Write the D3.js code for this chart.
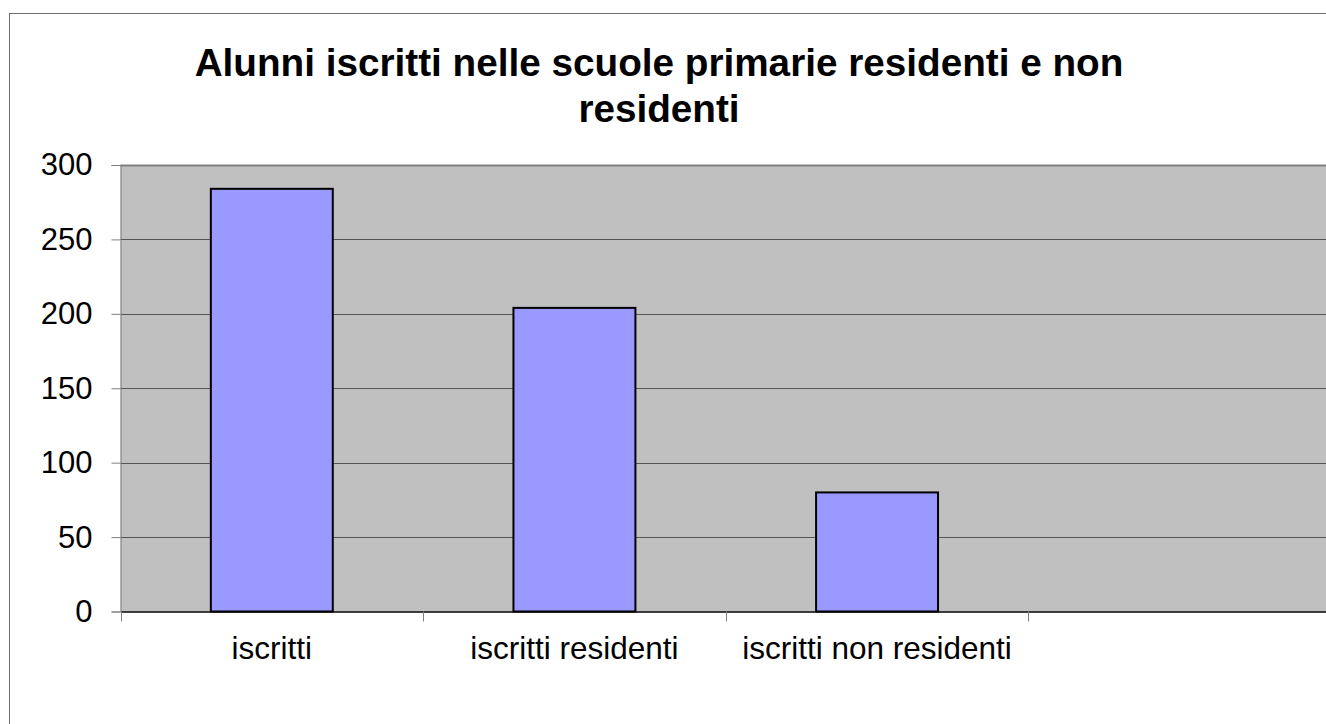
<!DOCTYPE html>
<html>
<head>
<meta charset="utf-8">
<script src="https://cdn.jsdelivr.net/npm/d3@7/dist/d3.min.js"></script>
<style>
  html, body { margin: 0; padding: 0; background: #fff; overflow: hidden; }
  svg { display: block; font-family: "Liberation Sans", Arial, sans-serif; }
</style>
</head>
<body>
<svg id="chart" width="1326" height="724"></svg>
<script>
const titleLines = ["Alunni iscritti nelle scuole primarie residenti e non", "residenti"];
const categories = ["iscritti", "iscritti residenti", "iscritti non residenti"];
const slots = ["iscritti", "iscritti residenti", "iscritti non residenti", ""];
const values = [284, 204, 80];
const yTicks = [0, 50, 100, 150, 200, 250, 300];

const svg = d3.select("#chart");

// outer chart border
svg.append("rect")
  .attr("x", 9.5).attr("y", 13.5)
  .attr("width", 1400).attr("height", 800)
  .attr("fill", "#fff").attr("stroke", "#6e6e6e").attr("stroke-width", 1);

const plot = { left: 120.5, top: 165, bottom: 611.5, right: 1331 };

const x = d3.scaleBand().domain(slots).range([plot.left, plot.right]).padding(0);
const y = d3.scaleLinear().domain([0, 300]).range([plot.bottom, plot.top]);

// plot area
svg.append("rect")
  .attr("x", plot.left).attr("y", plot.top)
  .attr("width", plot.right - plot.left).attr("height", plot.bottom - plot.top)
  .attr("fill", "#c0c0c0");

// gridlines
svg.append("g").selectAll("line").data(yTicks.filter(d => d > 0)).join("line")
  .attr("x1", plot.left).attr("x2", plot.right)
  .attr("y1", d => Math.round(y(d)) + 0.5).attr("y2", d => Math.round(y(d)) + 0.5)
  .attr("stroke", d => d === 300 ? "#808080" : "#555")
  .attr("stroke-width", d => d === 300 ? 2 : 1);

// y axis
const yAxis = d3.axisLeft(y).tickValues(yTicks).tickSize(9).tickPadding(19);
const gy = svg.append("g").attr("transform", `translate(${plot.left},0)`).call(yAxis);
gy.select(".domain").attr("stroke", "#808080");
gy.selectAll(".tick line").attr("stroke", "#808080");
gy.selectAll(".tick text").attr("font-size", 31).attr("fill", "#000")
  .attr("font-family", "Liberation Sans, Arial, sans-serif");

// bars
const barW = x.bandwidth() * 0.403;
svg.append("g").selectAll("rect").data(values).join("rect")
  .attr("x", (d, i) => x(categories[i]) + x.bandwidth() / 2 - barW / 2)
  .attr("y", d => y(d))
  .attr("width", barW)
  .attr("height", d => plot.bottom - y(d))
  .attr("fill", "#9999ff")
  .attr("stroke", "#000").attr("stroke-width", 2);

// x axis
const xAxis = d3.axisBottom(x).tickSize(0).tickPadding(0).tickFormat(d => d);
const gx = svg.append("g").attr("transform", `translate(0,${plot.bottom})`).call(xAxis);
gx.select(".domain").attr("stroke", "#000").attr("stroke-width", 1.5);
gx.selectAll(".tick text").attr("font-size", 31.5).attr("fill", "#000")
  .attr("font-family", "Liberation Sans, Arial, sans-serif")
  .attr("dy", 0).attr("y", 47.8);
// category boundary ticks
svg.append("g").selectAll("line").data(slots.concat(["end"])).join("line")
  .attr("x1", (d, i) => Math.round(plot.left + i * x.step()) + 0.5)
  .attr("x2", (d, i) => Math.round(plot.left + i * x.step()) + 0.5)
  .attr("y1", plot.bottom).attr("y2", plot.bottom + 10)
  .attr("stroke", "#808080").attr("stroke-width", 1);

// title
svg.append("g").selectAll("text").data(titleLines).join("text")
  .attr("x", 659).attr("y", (d, i) => 76 + i * 45.7)
  .attr("text-anchor", "middle")
  .attr("font-size", 38.7).attr("font-weight", "bold").attr("fill", "#000")
  .text(d => d);
</script>
</body>
</html>
